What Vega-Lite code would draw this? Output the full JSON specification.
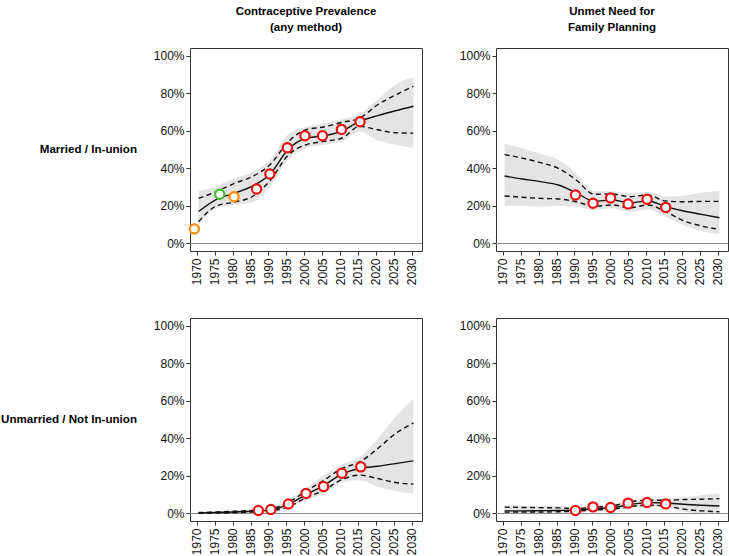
{
  "$schema": "https://vega.github.io/schema/vega-lite/v6.json",
  "padding": {"left": 1, "top": 5, "right": 0, "bottom": 0},
  "config": {
    "font": "Liberation Sans",
    "view": {"stroke": "#333333", "strokeWidth": 1},
    "axis": {"labelFont": "Liberation Sans", "labelFontSize": 12, "labelColor": "#111111", "tickColor": "#333333", "grid": false, "domain": false, "title": null}
  },
  "data": {"values": [
    {"grp": "Married / In-union", "ind": "Contraceptive Prevalence|(any method)", "year": 1970.5, "med": 17, "lo80": 11.6, "hi80": 24, "lo95": 9.8, "hi95": 28},
    {"grp": "Married / In-union", "ind": "Contraceptive Prevalence|(any method)", "year": 1975.5, "med": 23.5, "lo80": 20, "hi80": 27.6, "lo95": 18.7, "hi95": 30.5},
    {"grp": "Married / In-union", "ind": "Contraceptive Prevalence|(any method)", "year": 1980.5, "med": 26.7, "lo80": 22, "hi80": 32, "lo95": 20.5, "hi95": 34.7},
    {"grp": "Married / In-union", "ind": "Contraceptive Prevalence|(any method)", "year": 1985.5, "med": 30.5, "lo80": 25, "hi80": 35.6, "lo95": 22, "hi95": 38},
    {"grp": "Married / In-union", "ind": "Contraceptive Prevalence|(any method)", "year": 1990.5, "med": 37, "lo80": 33.5, "hi80": 42, "lo95": 30, "hi95": 44.5},
    {"grp": "Married / In-union", "ind": "Contraceptive Prevalence|(any method)", "year": 1995.5, "med": 50, "lo80": 47, "hi80": 54, "lo95": 44.5, "hi95": 58},
    {"grp": "Married / In-union", "ind": "Contraceptive Prevalence|(any method)", "year": 2000.5, "med": 56, "lo80": 52.5, "hi80": 60.5, "lo95": 50.7, "hi95": 62},
    {"grp": "Married / In-union", "ind": "Contraceptive Prevalence|(any method)", "year": 2005.5, "med": 57.3, "lo80": 54.3, "hi80": 62, "lo95": 52.5, "hi95": 64},
    {"grp": "Married / In-union", "ind": "Contraceptive Prevalence|(any method)", "year": 2010.5, "med": 59.8, "lo80": 56, "hi80": 64.4, "lo95": 54.3, "hi95": 66},
    {"grp": "Married / In-union", "ind": "Contraceptive Prevalence|(any method)", "year": 2015.5, "med": 65, "lo80": 62.3, "hi80": 66.7, "lo95": 59.5, "hi95": 69},
    {"grp": "Married / In-union", "ind": "Contraceptive Prevalence|(any method)", "year": 2020.5, "med": 68, "lo80": 60.5, "hi80": 73.8, "lo95": 55, "hi95": 76.5},
    {"grp": "Married / In-union", "ind": "Contraceptive Prevalence|(any method)", "year": 2025.5, "med": 70.6, "lo80": 58.9, "hi80": 79, "lo95": 52.5, "hi95": 84.5},
    {"grp": "Married / In-union", "ind": "Contraceptive Prevalence|(any method)", "year": 2030.5, "med": 73, "lo80": 58.7, "hi80": 83.6, "lo95": 50.7, "hi95": 88.6},

    {"grp": "Married / In-union", "ind": "Unmet Need for|Family Planning", "year": 1970.5, "med": 35.9, "lo80": 25.3, "hi80": 47.3, "lo95": 20.1, "hi95": 53},
    {"grp": "Married / In-union", "ind": "Unmet Need for|Family Planning", "year": 1975.5, "med": 34.3, "lo80": 24.6, "hi80": 45.4, "lo95": 19.9, "hi95": 50.7},
    {"grp": "Married / In-union", "ind": "Unmet Need for|Family Planning", "year": 1980.5, "med": 32.9, "lo80": 24, "hi80": 43, "lo95": 19.6, "hi95": 47.7},
    {"grp": "Married / In-union", "ind": "Unmet Need for|Family Planning", "year": 1985.5, "med": 31.1, "lo80": 23.7, "hi80": 40, "lo95": 19.9, "hi95": 44.5},
    {"grp": "Married / In-union", "ind": "Unmet Need for|Family Planning", "year": 1990.5, "med": 27, "lo80": 22.2, "hi80": 33.8, "lo95": 19.6, "hi95": 37.4},
    {"grp": "Married / In-union", "ind": "Unmet Need for|Family Planning", "year": 1995.5, "med": 22.5, "lo80": 19.8, "hi80": 26.2, "lo95": 17.8, "hi95": 27.8},
    {"grp": "Married / In-union", "ind": "Unmet Need for|Family Planning", "year": 2000.5, "med": 23.1, "lo80": 20.5, "hi80": 26.3, "lo95": 18.7, "hi95": 27.8},
    {"grp": "Married / In-union", "ind": "Unmet Need for|Family Planning", "year": 2005.5, "med": 21.7, "lo80": 19, "hi80": 24.9, "lo95": 16.9, "hi95": 26.7},
    {"grp": "Married / In-union", "ind": "Unmet Need for|Family Planning", "year": 2010.5, "med": 22.6, "lo80": 20.5, "hi80": 25.8, "lo95": 18.1, "hi95": 27.4},
    {"grp": "Married / In-union", "ind": "Unmet Need for|Family Planning", "year": 2015.5, "med": 19.6, "lo80": 16.9, "hi80": 22.6, "lo95": 14.2, "hi95": 24.9},
    {"grp": "Married / In-union", "ind": "Unmet Need for|Family Planning", "year": 2020.5, "med": 17.3, "lo80": 12.1, "hi80": 22.2, "lo95": 9.8, "hi95": 25.4},
    {"grp": "Married / In-union", "ind": "Unmet Need for|Family Planning", "year": 2025.5, "med": 15.5, "lo80": 9.3, "hi80": 22.4, "lo95": 6.6, "hi95": 27},
    {"grp": "Married / In-union", "ind": "Unmet Need for|Family Planning", "year": 2030.5, "med": 13.7, "lo80": 7.5, "hi80": 22.4, "lo95": 5, "hi95": 28.1},

    {"grp": "Unmarried / Not In-union", "ind": "Contraceptive Prevalence|(any method)", "year": 1970.5, "med": 0.3, "lo80": 0.1, "hi80": 0.5, "lo95": 0, "hi95": 0.8},
    {"grp": "Unmarried / Not In-union", "ind": "Contraceptive Prevalence|(any method)", "year": 1975.5, "med": 0.5, "lo80": 0.2, "hi80": 0.8, "lo95": 0.1, "hi95": 1.2},
    {"grp": "Unmarried / Not In-union", "ind": "Contraceptive Prevalence|(any method)", "year": 1980.5, "med": 0.8, "lo80": 0.4, "hi80": 1.2, "lo95": 0.2, "hi95": 1.7},
    {"grp": "Unmarried / Not In-union", "ind": "Contraceptive Prevalence|(any method)", "year": 1985.5, "med": 1.2, "lo80": 0.8, "hi80": 1.6, "lo95": 0.5, "hi95": 2.2},
    {"grp": "Unmarried / Not In-union", "ind": "Contraceptive Prevalence|(any method)", "year": 1990.5, "med": 1.8, "lo80": 1.4, "hi80": 2.4, "lo95": 0.9, "hi95": 3},
    {"grp": "Unmarried / Not In-union", "ind": "Contraceptive Prevalence|(any method)", "year": 1995.5, "med": 4.8, "lo80": 3.5, "hi80": 5.8, "lo95": 2.7, "hi95": 7.1},
    {"grp": "Unmarried / Not In-union", "ind": "Contraceptive Prevalence|(any method)", "year": 2000.5, "med": 10, "lo80": 8.3, "hi80": 11.9, "lo95": 7.1, "hi95": 13.6},
    {"grp": "Unmarried / Not In-union", "ind": "Contraceptive Prevalence|(any method)", "year": 2005.5, "med": 15, "lo80": 12.4, "hi80": 17.7, "lo95": 10.6, "hi95": 20.4},
    {"grp": "Unmarried / Not In-union", "ind": "Contraceptive Prevalence|(any method)", "year": 2010.5, "med": 20.9, "lo80": 18, "hi80": 23.9, "lo95": 16.5, "hi95": 26},
    {"grp": "Unmarried / Not In-union", "ind": "Contraceptive Prevalence|(any method)", "year": 2015.5, "med": 23.9, "lo80": 20.4, "hi80": 27.4, "lo95": 17.7, "hi95": 30.1},
    {"grp": "Unmarried / Not In-union", "ind": "Contraceptive Prevalence|(any method)", "year": 2020.5, "med": 25.1, "lo80": 18.6, "hi80": 34.5, "lo95": 14.2, "hi95": 39.8},
    {"grp": "Unmarried / Not In-union", "ind": "Contraceptive Prevalence|(any method)", "year": 2025.5, "med": 26.5, "lo80": 16.5, "hi80": 42.5, "lo95": 11.9, "hi95": 51.3},
    {"grp": "Unmarried / Not In-union", "ind": "Contraceptive Prevalence|(any method)", "year": 2030.5, "med": 28, "lo80": 15.6, "hi80": 48.1, "lo95": 10.6, "hi95": 61},

    {"grp": "Unmarried / Not In-union", "ind": "Unmet Need for|Family Planning", "year": 1970.5, "med": 1.4, "lo80": 0.7, "hi80": 3.4, "lo95": 0.2, "hi95": 4.4},
    {"grp": "Unmarried / Not In-union", "ind": "Unmet Need for|Family Planning", "year": 1975.5, "med": 1.4, "lo80": 0.8, "hi80": 3.2, "lo95": 0.2, "hi95": 4.3},
    {"grp": "Unmarried / Not In-union", "ind": "Unmet Need for|Family Planning", "year": 1980.5, "med": 1.5, "lo80": 0.8, "hi80": 3.1, "lo95": 0.3, "hi95": 4.1},
    {"grp": "Unmarried / Not In-union", "ind": "Unmet Need for|Family Planning", "year": 1985.5, "med": 1.6, "lo80": 0.9, "hi80": 3, "lo95": 0.4, "hi95": 4},
    {"grp": "Unmarried / Not In-union", "ind": "Unmet Need for|Family Planning", "year": 1990.5, "med": 1.9, "lo80": 1.2, "hi80": 2.6, "lo95": 0.7, "hi95": 3.4},
    {"grp": "Unmarried / Not In-union", "ind": "Unmet Need for|Family Planning", "year": 1995.5, "med": 2.6, "lo80": 1.9, "hi80": 3.4, "lo95": 1, "hi95": 4},
    {"grp": "Unmarried / Not In-union", "ind": "Unmet Need for|Family Planning", "year": 2000.5, "med": 3, "lo80": 2.3, "hi80": 4, "lo95": 1.4, "hi95": 4.8},
    {"grp": "Unmarried / Not In-union", "ind": "Unmet Need for|Family Planning", "year": 2005.5, "med": 4.8, "lo80": 3.7, "hi80": 6.2, "lo95": 3, "hi95": 7},
    {"grp": "Unmarried / Not In-union", "ind": "Unmet Need for|Family Planning", "year": 2010.5, "med": 5.8, "lo80": 4.4, "hi80": 7, "lo95": 3.5, "hi95": 7.9},
    {"grp": "Unmarried / Not In-union", "ind": "Unmet Need for|Family Planning", "year": 2015.5, "med": 5.6, "lo80": 4, "hi80": 7, "lo95": 3, "hi95": 7.9},
    {"grp": "Unmarried / Not In-union", "ind": "Unmet Need for|Family Planning", "year": 2020.5, "med": 4.9, "lo80": 2.3, "hi80": 7.4, "lo95": 0.9, "hi95": 8.6},
    {"grp": "Unmarried / Not In-union", "ind": "Unmet Need for|Family Planning", "year": 2025.5, "med": 4.4, "lo80": 1.4, "hi80": 7.6, "lo95": 0.2, "hi95": 9.7},
    {"grp": "Unmarried / Not In-union", "ind": "Unmet Need for|Family Planning", "year": 2030.5, "med": 4, "lo80": 0.9, "hi80": 7.9, "lo95": 0, "hi95": 10.6},

    {"grp": "Married / In-union", "ind": "Contraceptive Prevalence|(any method)", "year": 1969.3, "obs": 7.7, "source": "Other"},
    {"grp": "Married / In-union", "ind": "Contraceptive Prevalence|(any method)", "year": 1976.4, "obs": 26.2, "source": "MICS"},
    {"grp": "Married / In-union", "ind": "Contraceptive Prevalence|(any method)", "year": 1980.4, "obs": 24.9, "source": "Other"},
    {"grp": "Married / In-union", "ind": "Contraceptive Prevalence|(any method)", "year": 1986.7, "obs": 29, "source": "DHS"},
    {"grp": "Married / In-union", "ind": "Contraceptive Prevalence|(any method)", "year": 1990.4, "obs": 37, "source": "DHS"},
    {"grp": "Married / In-union", "ind": "Contraceptive Prevalence|(any method)", "year": 1995.3, "obs": 50.9, "source": "DHS"},
    {"grp": "Married / In-union", "ind": "Contraceptive Prevalence|(any method)", "year": 2000.2, "obs": 57.3, "source": "DHS"},
    {"grp": "Married / In-union", "ind": "Contraceptive Prevalence|(any method)", "year": 2005.1, "obs": 57.3, "source": "DHS"},
    {"grp": "Married / In-union", "ind": "Contraceptive Prevalence|(any method)", "year": 2010.4, "obs": 60.7, "source": "DHS"},
    {"grp": "Married / In-union", "ind": "Contraceptive Prevalence|(any method)", "year": 2015.6, "obs": 64.8, "source": "DHS"},

    {"grp": "Married / In-union", "ind": "Unmet Need for|Family Planning", "year": 1990.3, "obs": 25.8, "source": "DHS"},
    {"grp": "Married / In-union", "ind": "Unmet Need for|Family Planning", "year": 1995.2, "obs": 21.4, "source": "DHS"},
    {"grp": "Married / In-union", "ind": "Unmet Need for|Family Planning", "year": 2000.1, "obs": 24.2, "source": "DHS"},
    {"grp": "Married / In-union", "ind": "Unmet Need for|Family Planning", "year": 2005.0, "obs": 21, "source": "DHS"},
    {"grp": "Married / In-union", "ind": "Unmet Need for|Family Planning", "year": 2010.3, "obs": 23.5, "source": "DHS"},
    {"grp": "Married / In-union", "ind": "Unmet Need for|Family Planning", "year": 2015.5, "obs": 19.2, "source": "DHS"},

    {"grp": "Unmarried / Not In-union", "ind": "Contraceptive Prevalence|(any method)", "year": 1987.2, "obs": 1.6, "source": "DHS"},
    {"grp": "Unmarried / Not In-union", "ind": "Contraceptive Prevalence|(any method)", "year": 1990.7, "obs": 2.1, "source": "DHS"},
    {"grp": "Unmarried / Not In-union", "ind": "Contraceptive Prevalence|(any method)", "year": 1995.6, "obs": 5, "source": "DHS"},
    {"grp": "Unmarried / Not In-union", "ind": "Contraceptive Prevalence|(any method)", "year": 2000.5, "obs": 10.6, "source": "DHS"},
    {"grp": "Unmarried / Not In-union", "ind": "Contraceptive Prevalence|(any method)", "year": 2005.4, "obs": 14.3, "source": "DHS"},
    {"grp": "Unmarried / Not In-union", "ind": "Contraceptive Prevalence|(any method)", "year": 2010.5, "obs": 21.4, "source": "DHS"},
    {"grp": "Unmarried / Not In-union", "ind": "Contraceptive Prevalence|(any method)", "year": 2015.8, "obs": 24.8, "source": "DHS"},

    {"grp": "Unmarried / Not In-union", "ind": "Unmet Need for|Family Planning", "year": 1990.3, "obs": 1.6, "source": "DHS"},
    {"grp": "Unmarried / Not In-union", "ind": "Unmet Need for|Family Planning", "year": 1995.2, "obs": 3.5, "source": "DHS"},
    {"grp": "Unmarried / Not In-union", "ind": "Unmet Need for|Family Planning", "year": 2000.1, "obs": 3.2, "source": "DHS"},
    {"grp": "Unmarried / Not In-union", "ind": "Unmet Need for|Family Planning", "year": 2005.0, "obs": 5.5, "source": "DHS"},
    {"grp": "Unmarried / Not In-union", "ind": "Unmet Need for|Family Planning", "year": 2010.3, "obs": 5.8, "source": "DHS"},
    {"grp": "Unmarried / Not In-union", "ind": "Unmet Need for|Family Planning", "year": 2015.5, "obs": 5.1, "source": "DHS"}
  ]},
  "facet": {
    "row": {"field": "grp", "type": "nominal", "sort": ["Married / In-union", "Unmarried / Not In-union"],
      "header": {"title": null, "labelAngle": 0, "labelOrient": "left", "labelAlign": "left", "labelFontWeight": "bold", "labelFontSize": 11.6, "labelFont": "Liberation Sans", "labelPadding": 15, "labelColor": "#000000"}},
    "column": {"field": "ind", "type": "nominal", "sort": ["Contraceptive Prevalence|(any method)", "Unmet Need for|Family Planning"],
      "header": {"title": null, "labelExpr": "split(datum.value, '|')", "labelFontWeight": "bold", "labelFontSize": 11.5, "labelFont": "Liberation Sans", "labelLineHeight": 16, "labelPadding": 14, "labelColor": "#000000"}}
  },
  "spacing": {"row": 31, "column": 34},
  "resolve": {"axis": {"x": "independent", "y": "independent"}},
  "spec": {
    "width": 232,
    "height": 203,
    "encoding": {
      "x": {"field": "year", "type": "quantitative", "scale": {"domain": [1968.1, 2032.9], "nice": false, "zero": false},
        "axis": {"values": [1970, 1975, 1980, 1985, 1990, 1995, 2000, 2005, 2010, 2015, 2020, 2025, 2030], "format": "d", "labelAngle": -90, "labelAlign": "right", "labelBaseline": "middle", "tickSize": 4, "labelPadding": 3, "labelFlush": false, "labelOverlap": false}}
    },
    "layer": [
      {
        "transform": [{"filter": "isValid(datum.med)"}],
        "mark": {"type": "area", "color": "#e4e4e4", "interpolate": "monotone"},
        "encoding": {
          "y": {"field": "lo95", "type": "quantitative", "scale": {"domain": [-4, 104], "nice": false},
            "axis": {"values": [0, 20, 40, 60, 80, 100], "labelExpr": "datum.value + '%'", "tickSize": 4, "labelPadding": 2}},
          "y2": {"field": "hi95"}
        }
      },
      {
        "transform": [{"filter": "isValid(datum.med) && datum.year == 1970.5"}],
        "mark": {"type": "rule", "color": "#8c8c8c", "strokeWidth": 1.2},
        "encoding": {"y": {"datum": 0, "type": "quantitative"}, "x": null}
      },
      {
        "transform": [{"filter": "isValid(datum.med)"}],
        "mark": {"type": "line", "color": "#111111", "strokeWidth": 1.4, "strokeDash": [5, 3.5], "interpolate": "monotone"},
        "encoding": {"y": {"field": "hi80", "type": "quantitative"}}
      },
      {
        "transform": [{"filter": "isValid(datum.med)"}],
        "mark": {"type": "line", "color": "#111111", "strokeWidth": 1.4, "strokeDash": [5, 3.5], "interpolate": "monotone"},
        "encoding": {"y": {"field": "lo80", "type": "quantitative"}}
      },
      {
        "transform": [{"filter": "isValid(datum.med)"}],
        "mark": {"type": "line", "color": "#111111", "strokeWidth": 1.4, "interpolate": "monotone"},
        "encoding": {"y": {"field": "med", "type": "quantitative"}}
      },
      {
        "transform": [{"filter": "isValid(datum.obs)"}],
        "mark": {"type": "point", "shape": "circle", "filled": true, "fill": "#ffffff", "size": 85, "strokeWidth": 2.2, "opacity": 1},
        "encoding": {
          "y": {"field": "obs", "type": "quantitative"},
          "stroke": {"field": "source", "type": "nominal", "scale": {"domain": ["DHS", "MICS", "Other"], "range": ["#ee1111", "#44bb33", "#ff8c00"]}, "legend": null}
        }
      }
    ]
  }
}
